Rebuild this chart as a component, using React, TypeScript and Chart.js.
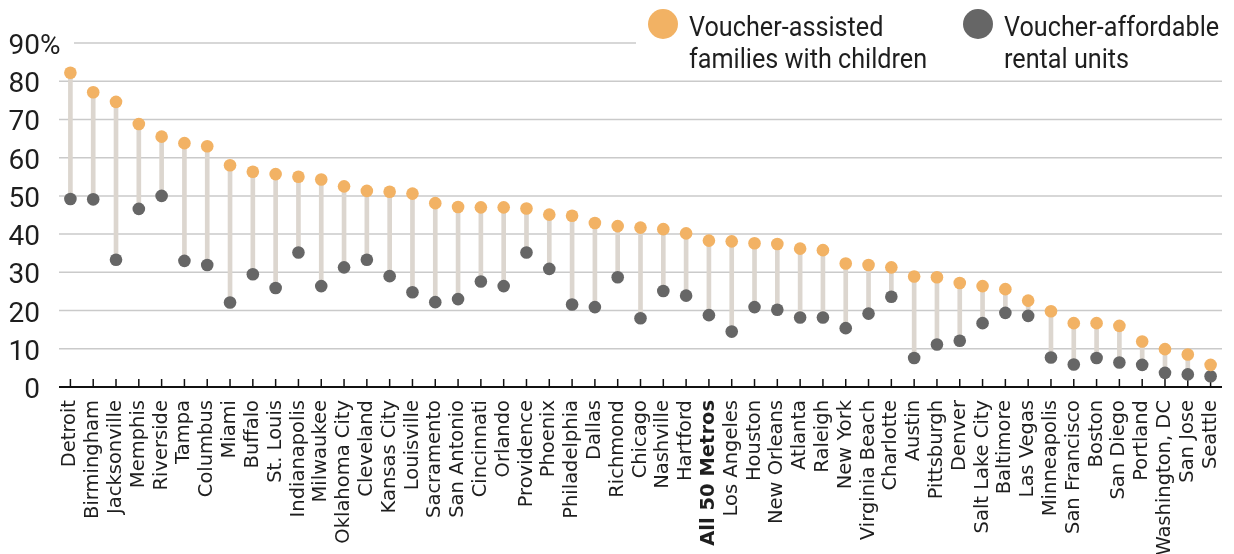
import React, { useEffect, useRef } from "react";
import { Chart, registerables } from "chart.js";

Chart.register(...registerables);

const metros = [
  "Detroit", "Birmingham", "Jacksonville", "Memphis", "Riverside", "Tampa", "Columbus", "Miami",
  "Buffalo", "St. Louis", "Indianapolis", "Milwaukee", "Oklahoma City", "Cleveland", "Kansas City",
  "Louisville", "Sacramento", "San Antonio", "Cincinnati", "Orlando", "Providence", "Phoenix",
  "Philadelphia", "Dallas", "Richmond", "Chicago", "Nashville", "Hartford", "All 50 Metros",
  "Los Angeles", "Houston", "New Orleans", "Atlanta", "Raleigh", "New York", "Virginia Beach",
  "Charlotte", "Austin", "Pittsburgh", "Denver", "Salt Lake City", "Baltimore", "Las Vegas",
  "Minneapolis", "San Francisco", "Boston", "San Diego", "Portland", "Washington, DC", "San Jose", "Seattle",
];

const familiesWithChildren = [
  82.2, 77.1, 74.6, 68.8, 65.5, 63.8, 63.0, 58.0,
  56.3, 55.7, 55.0, 54.3, 52.5, 51.3, 51.1,
  50.6, 48.1, 47.1, 47.0, 47.0, 46.7, 45.1,
  44.8, 42.9, 42.1, 41.7, 41.3, 40.2, 38.3,
  38.1, 37.6, 37.4, 36.2, 35.8, 32.3, 31.9,
  31.3, 28.9, 28.7, 27.2, 26.4, 25.6, 22.6,
  19.8, 16.7, 16.7, 16.0, 11.9, 9.9, 8.5, 5.8,
];

const affordableUnits = [
  49.2, 49.1, 33.3, 46.6, 50.0, 33.0, 31.9, 22.1,
  29.5, 25.9, 35.2, 26.4, 31.3, 33.3, 29.0,
  24.8, 22.2, 23.0, 27.6, 26.4, 35.2, 30.9,
  21.6, 20.9, 28.7, 18.0, 25.1, 23.9, 18.8,
  14.5, 20.9, 20.2, 18.2, 18.2, 15.4, 19.2,
  23.6, 7.6, 11.1, 12.1, 16.7, 19.4, 18.6,
  7.7, 5.9, 7.6, 6.4, 5.8, 3.7, 3.3, 2.8,
];

const yTickValues = [0, 10, 20, 30, 40, 50, 60, 70, 80, 90];
const legendItems = [
  ["Voucher-assisted", "families with children"],
  ["Voucher-affordable", "rental units"],
];
const boldLabel = "All 50 Metros";

const ORANGE = "#F2B264";
const GREY = "#666666";
const STEM = "#DCD6CF";
const GRID = "#CACACA";
const TEXT = "#1E1E1E";

const customDraw = {
  id: "customDraw",
  beforeDatasetsDraw(chart: any) {
    const { ctx, chartArea, scales } = chart;
    const y = scales.y;
    const x = scales.x;
    ctx.save();
    ctx.strokeStyle = GRID;
    ctx.lineWidth = 1.5;
    yTickValues.forEach((v, i) => {
      if (v === 0) return;
      const py = y.getPixelForValue(v);
      const isTop = i === yTickValues.length - 1;
      ctx.beginPath();
      ctx.moveTo(chartArea.left + (isTop ? 15 : 0), py);
      ctx.lineTo(isTop ? 636 : chartArea.right, py);
      ctx.stroke();
    });
    const p0 = y.getPixelForValue(0);
    ctx.strokeStyle = "#111";
    ctx.lineWidth = 2;
    ctx.beginPath();
    ctx.moveTo(chartArea.left, p0);
    ctx.lineTo(chartArea.right, p0);
    ctx.stroke();
    ctx.lineWidth = 1.5;
    metros.forEach((_, i) => {
      const px = x.getPixelForValue(i);
      ctx.beginPath();
      ctx.moveTo(px, p0);
      ctx.lineTo(px, p0 - 8);
      ctx.stroke();
    });
    ctx.restore();
  },
  afterDraw(chart: any) {
    const { ctx, scales } = chart;
    const y = scales.y;
    const x = scales.x;
    ctx.save();
    ctx.fillStyle = TEXT;
    ctx.font = '28px Roboto';
    ctx.textBaseline = "alphabetic";
    yTickValues.forEach((v, i) => {
      const py = y.getPixelForValue(v) + 11;
      ctx.textAlign = "right";
      ctx.fillText(String(v), 40, py);
      if (i === yTickValues.length - 1) {
        ctx.textAlign = "left";
        ctx.fillText("%", 40, py);
      }
    });
    const p0 = y.getPixelForValue(0);
    metros.forEach((m, i) => {
      const px = x.getPixelForValue(i);
      ctx.save();
      ctx.translate(px, p0 + 13);
      ctx.rotate(-Math.PI / 2);
      ctx.font = (m === boldLabel ? "bold " : "") + '19.5px "DejaVu Sans"';
      ctx.textAlign = "right";
      ctx.textBaseline = "middle";
      ctx.fillText(m, 0, 0);
      ctx.restore();
    });
    const colors = [ORANGE, GREY];
    const dotX = [663, 978];
    legendItems.forEach((lines, k) => {
      ctx.fillStyle = colors[k];
      ctx.beginPath();
      ctx.arc(dotX[k], 24, 15, 0, Math.PI * 2);
      ctx.fill();
      ctx.fillStyle = TEXT;
      ctx.font = '28px Roboto';
      ctx.textAlign = "left";
      ctx.textBaseline = "alphabetic";
      lines.forEach((t, j) => {
        ctx.save();
        ctx.translate(dotX[k] + 26, 36 + j * 31.5);
        ctx.scale(0.9, 1);
        ctx.fillText(t, 0, 0);
        ctx.restore();
      });
    });
    ctx.restore();
  },
};

export default function App() {
  const ref = useRef<HTMLCanvasElement>(null);
  useEffect(() => {
    document.body.style.margin = "0";
    const chart = new Chart(ref.current as HTMLCanvasElement, {
      type: "bar",
      data: {
        labels: metros,
        datasets: [
          {
            type: "line",
            label: "Voucher-assisted families with children",
            data: familiesWithChildren,
            showLine: false,
            pointRadius: 6.3,
            pointBorderWidth: 0,
            pointBackgroundColor: ORANGE,
            borderColor: ORANGE,
            order: 1,
          } as any,
          {
            type: "line",
            label: "Voucher-affordable rental units",
            data: affordableUnits,
            showLine: false,
            pointRadius: 6.3,
            pointBorderWidth: 0,
            pointBackgroundColor: GREY,
            borderColor: GREY,
            order: 2,
          } as any,
          {
            type: "bar",
            label: "gap",
            data: metros.map((_, i) => [affordableUnits[i], familiesWithChildren[i]]),
            backgroundColor: STEM,
            barThickness: 4,
            order: 3,
          } as any,
        ],
      },
      options: {
        responsive: false,
        animation: false,
        layout: { padding: { top: 43, right: 12, left: 0, bottom: 0 } },
        plugins: { legend: { display: false }, tooltip: { enabled: false } },
        scales: {
          x: {
            offset: true,
            grid: { display: false, drawTicks: false },
            border: { display: false },
            ticks: { display: false },
            afterFit: (s: any) => { s.height = 167; },
          },
          y: {
            min: 0,
            max: 90,
            grid: { display: false, drawTicks: false },
            border: { display: false },
            ticks: { display: false, stepSize: 10 },
            afterFit: (s: any) => { s.width = 59; },
          },
        },
      } as any,
      plugins: [customDraw],
    });
    return () => chart.destroy();
  }, []);
  return (
    <div style={{ position: "absolute", left: 0, top: 0, width: 1234, height: 554, background: "#fff" }}>
      <canvas ref={ref} width={1234} height={554} />
    </div>
  );
}
